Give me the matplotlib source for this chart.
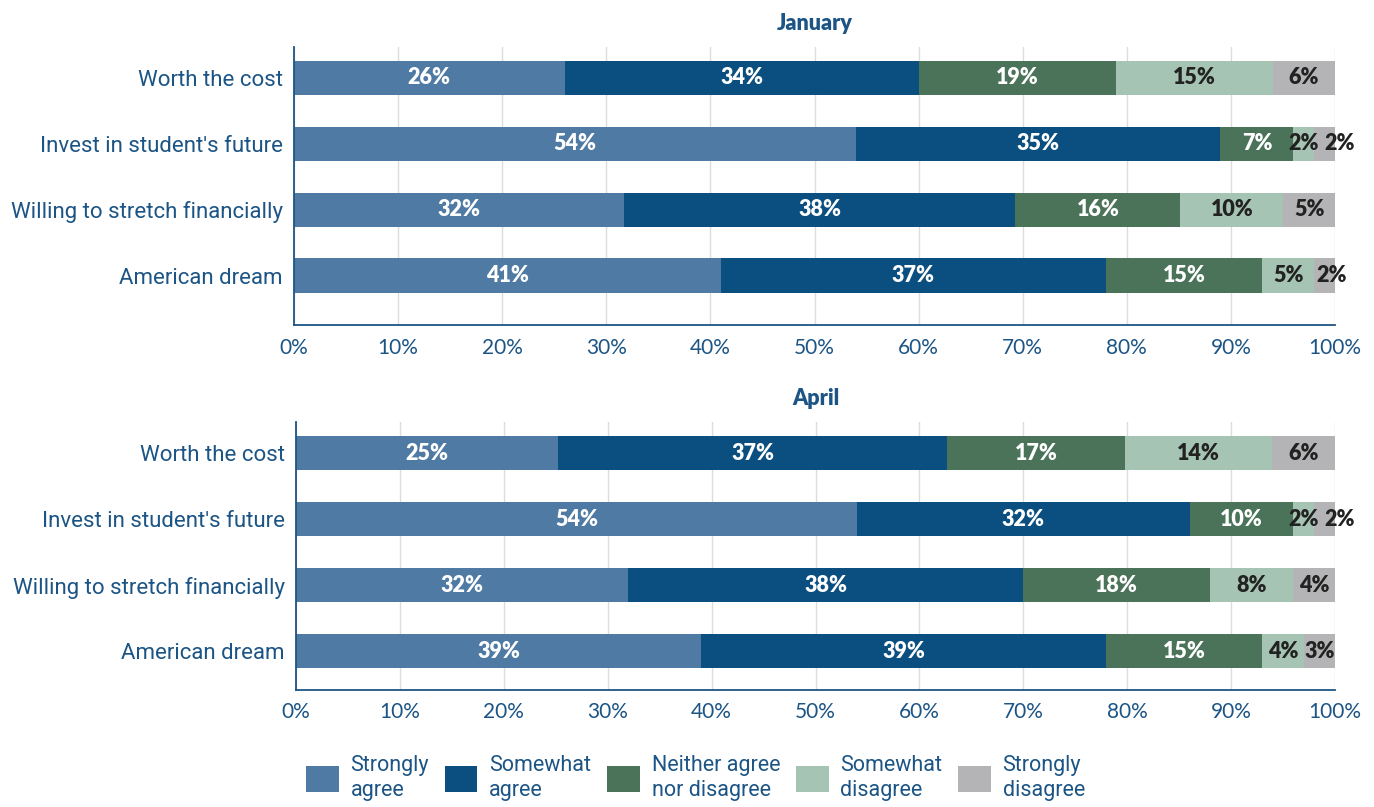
import numpy as np
import matplotlib
matplotlib.use('Agg')
from matplotlib import pyplot as plt
from matplotlib.patches import Patch

categories = ['Worth the cost', "Invest in student's future",
              'Willing to stretch financially', 'American dream']
responses = ['Strongly\nagree', 'Somewhat\nagree', 'Neither agree\nnor disagree',
             'Somewhat\ndisagree', 'Strongly\ndisagree']

january = [[26, 34, 19, 15, 6],
           [54, 35, 7, 2, 2],
           [32, 38, 16, 10, 5],
           [41, 37, 15, 5, 2]]
april = [[25, 37, 17, 14, 6],
         [54, 32, 10, 2, 2],
         [32, 38, 18, 8, 4],
         [39, 39, 15, 4, 3]]
ticks = [0, 10, 20, 30, 40, 50, 60, 70, 80, 90, 100]

colors = ['#4f7aa3', '#0b4f80', '#4a7359', '#a6c4b3', '#b4b4b6']
txt_colors = ['white', 'white', 'white', '#222222', '#222222']
blue = '#1c5585'

plt.rcParams['font.family'] = ['Roboto', 'DejaVu Sans']

fig = plt.figure(figsize=(13.74, 8.07), dpi=100)
ax1 = fig.add_axes([294/1374, 1-325/807, 1041/1374, 278/807])
ax2 = fig.add_axes([296/1374, 1-690/807, 1039/1374, 268/807])


def draw(ax, data, title, ylim):
    y = np.arange(len(categories))
    for i, row in enumerate(data):
        row = np.array(row, dtype=float)
        vals = row / row.sum() * 100
        left = 0
        for j, v in enumerate(vals):
            ax.barh(y[i], v, left=left, height=0.52, color=colors[j], zorder=2)
            x = left + v / 2
            # nudge tiny end labels so they don't sit on top of each other
            if j == len(vals) - 1 and v < 3:
                x += 1.4 if vals[j - 1] < 3 else 0.7
            ax.text(x, y[i], f'{int(row[j])}%', ha='center', va='center',
                    color=txt_colors[j], fontsize=15.5, fontweight='heavy',
                    family=['Lato', 'DejaVu Sans'], zorder=3, clip_on=False)
            left += v
    ax.set_xlim(0, 100)
    ax.set_ylim(*ylim)
    ax.set_yticks(y)
    ax.set_yticklabels(categories, fontsize=16, color=blue)
    ax.set_xticks(ticks)
    ax.set_xticklabels([f'{t}%' for t in ticks], fontsize=15, color=blue,
                       family=['Lato', 'DejaVu Sans'])
    ax.tick_params(length=0, pad=9)
    ax.tick_params(axis='y', pad=8)
    ax.grid(axis='x', color='#dddddd', linewidth=1, zorder=0)
    for s in ['top', 'right']:
        ax.spines[s].set_visible(False)
    for s in ['left', 'bottom']:
        ax.spines[s].set_color(blue)
        ax.spines[s].set_linewidth(1.3)
    ax.set_title(title, fontsize=15.5, fontweight='heavy', color=blue,
                 family=['Lato', 'DejaVu Sans'], pad=12)


draw(ax1, january, 'January', (3.75, -0.47))
draw(ax2, april, 'April', (3.59, -0.47))

handles = [Patch(facecolor=c) for c in colors]
fig.legend(handles, responses, ncol=5, loc='center left',
           bbox_to_anchor=(287/1374, 1-778/807), frameon=False,
           fontsize=15.5, labelcolor=blue, handlelength=1.5, handleheight=1.5,
           handletextpad=0.55, columnspacing=0.75, labelspacing=0.2)

fig.savefig('out.png', dpi=100)
